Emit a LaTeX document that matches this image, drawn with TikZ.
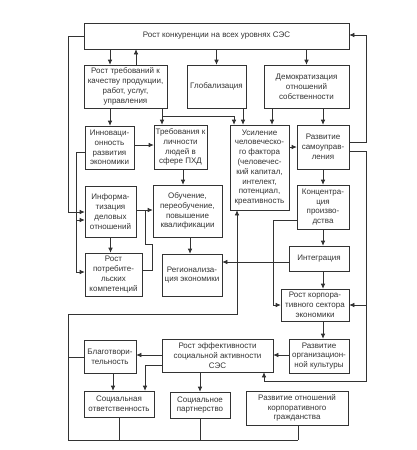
\documentclass[tikz,border=0pt]{standalone}
\usepackage{fontspec}
\setmainfont{Liberation Sans}
\usetikzlibrary{arrows.meta}
\definecolor{ink}{HTML}{333333}
\tikzset{
  box/.style={draw=ink, line width=0.6pt, inner sep=0pt, align=center,
    text=ink, font=\fontsize{8}{9.8}\selectfont},
  arr/.style={-{Latex[length=5pt,width=4.5pt]}},
}
\begin{document}
\begin{tikzpicture}[x=1pt, y=-1pt, line width=0.6pt, draw=ink]
      \useasboundingbox (0,0) rectangle (417,450);
      \node[box, minimum width=265pt, minimum height=26pt] (konk) at (216.5,36) {Рост конкуренции на всех уровнях СЭС};
      \node[box, minimum width=83pt, minimum height=43pt] (rt) at (125.5,86.5) {Рост требований к\\качеству продукции,\\работ, услуг,\\управления};
      \node[box, minimum width=59pt, minimum height=43pt] (glob) at (216.5,86.5) {Глобализация};
      \node[box, minimum width=85pt, minimum height=43pt] (demo) at (306.5,86.5) {Демократизация\\отношений\\собственности};
      \node[box, minimum width=49pt, minimum height=43pt] (innov) at (109.5,147.5) {Инноваци-\\онность\\развития\\экономики};
      \node[box, minimum width=53pt, minimum height=44pt] (treb) at (180.5,147) {Требования к\\личности\\людей в\\сфере ПХД};
      \node[box, minimum width=59pt, minimum height=85pt] (usil) at (259.5,167.5) {Усиление\\человеческо-\\го фактора\\(человечес-\\кий капитал,\\интелект,\\потенциал,\\креативность};
      \node[box, minimum width=52pt, minimum height=44pt] (samo) at (323,147) {Развитие\\самоуправ-\\ления};
      \node[box, minimum width=51pt, minimum height=51pt] (inform) at (110.5,211.5) {Информа-\\тизация\\деловых\\отношений};
      \node[box, minimum width=69pt, minimum height=52pt] (obuch) at (187.5,211) {Обучение,\\переобучение,\\повышение\\квалификации};
      \node[box, minimum width=52pt, minimum height=44pt] (konc) at (323,207) {Концентра-\\ция\\произво-\\дства};
      \node[box, minimum width=57pt, minimum height=43pt] (potreb) at (113.5,274.5) {Рост\\потребите-\\льских\\компетенций};
      \node[box, minimum width=60pt, minimum height=42pt] (reg) at (192,275) {Регионализа-\\ция экономики};
      \node[box, minimum width=60pt, minimum height=25pt] (integ) at (319,258.5) {Интеграция};
      \node[box, minimum width=68pt, minimum height=32pt] (korp) at (315,305) {Рост корпора-\\тивного сектора\\экономики};
      \node[box, minimum width=60pt, minimum height=34pt] (org) at (319,356) {Развитие\\организацион-\\ной культуры};
      \node[box, minimum width=111pt, minimum height=33pt] (eff) at (217.5,355.5) {Рост эффективности\\социальной активности\\СЭС};
      \node[box, minimum width=52pt, minimum height=33pt] (blag) at (110,356.5) {Благотвори-\\тельность};
      \node[box, minimum width=70pt, minimum height=26pt] (otv) at (119,404) {Социальная\\ответственность};
      \node[box, minimum width=60pt, minimum height=26pt] (partn) at (200,405) {Социальное\\партнерство};
      \node[box, minimum width=102pt, minimum height=34pt] (grazhd) at (297,408) {Развитие отношений\\корпоративного\\гражданства};
      \begin{scope}[arr]
        \draw (konk.south -| 110,0) -- (rt.north -| 110,0);
        \draw (rt.north -| 136,0) -- (konk.south -| 136,0);
        \draw (konk.south -| glob.north) -- (glob.north);
        \draw (konk.south -| demo.north) -- (demo.north);
        \draw (rt.south -| 110,0) -- (innov.north -| 110,0);
        \draw (rt.south -| 162,0) -- (treb.north -| 162,0);
        \draw (162,116) -- (234,116) -- (usil.north -| 234,0);
        \draw (glob.south -| 243,0) -- (usil.north -| 243,0);
        \draw (demo.south -| 272,0) -- (usil.north -| 272,0);
        \draw (demo.south -| samo.north) -- (samo.north);
        \draw (innov.east |- 0,145) -- (treb.west |- 0,145);
        \draw (treb.south -| 183,0) -- (obuch.north -| 183,0);
        \draw (usil.east |- samo.west) -- (samo.west);
        \draw (samo.east |- 0,142) -- (366,142) -- (366,35) -- (konk.east |- 0,35);
        \draw (samo.east |- 0,151) -- (366,151) -- (366,381) -- (264,381) -- (eff.south -| 264,0);
        \draw (366,305) -- (korp.east);
        \draw (samo.south) -- (konc.north);
        \draw (konc.south) -- (konc.south |- integ.north);
        \draw (konc.south |- integ.south) -- (konc.south |- korp.north);
        \draw (konc.south |- korp.south) -- (konc.south |- org.north);
        \draw (konc.west |- 0,220) -- (273,220) -- (273,305) -- (korp.west);
        \draw (integ.west |- 0,262) -- (reg.east |- 0,262);
        \draw (org.west |- 0,355) -- (eff.east |- 0,355);
        \draw (eff.west |- 0,355) -- (blag.east |- 0,355);
        \draw (eff.west |- 0,365) -- (145,365) -- (otv.north -| 145,0);
        \draw (eff.south -| partn.north) -- (partn.north);
        \draw (blag.south -| 113,0) -- (otv.north -| 113,0);
        \draw (konk.west |- 0,36) -- (68,36) -- (68,212) -- (inform.west |- 0,212);
        \draw (innov.west |- 0,152) -- (76,152) -- (76,272) -- (potreb.west |- 0,272);
        \draw (76,220) -- (inform.west |- 0,220);
        \draw (inform.south) -- (inform.south |- potreb.north);
        \draw (inform.east |- 0,210) -- (obuch.west |- 0,210);
        \draw (obuch.south -| 190,0) -- (reg.north -| 190,0);
        \draw (298,440) -- (68,440) -- (68,314) -- (237,314) -- (usil.south -| 237,0);
      \end{scope}
      \begin{scope}[-]
        \draw (potreb.east |- 0,270) -- (152,270) -- (152,244) -- (145,244) -- (145,210);
        \draw (otv.south -| 119,0) -- (119,440);
        \draw (partn.south) -- (partn.south |- 0,440);
        \draw (grazhd.south -| 298,0) -- (298,440);
        \draw (blag.west |- 0,357) -- (68,357);
      \end{scope}
\end{tikzpicture}
\end{document}
